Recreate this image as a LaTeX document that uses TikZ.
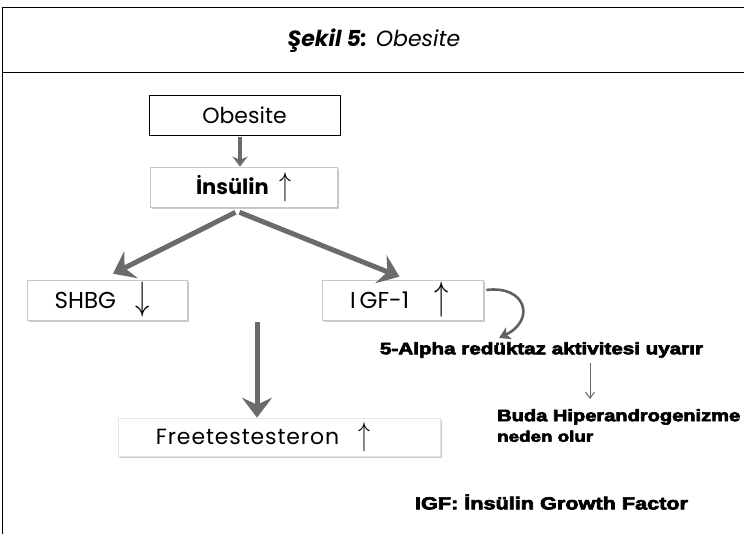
\documentclass[tikz,border=0pt]{standalone}
\usepackage{fontspec}
\usepackage{graphicx}
\setmainfont{Poppins}
\newfontfamily\heavyfont[FakeBold=3.5]{Liberation Sans}
\usetikzlibrary{arrows.meta,shadows,calc}

% tall thin up/down arrows used after the labels
\newcommand{\upmark}{\raisebox{-1pt}{\scalebox{1.15}[1.6]{$\uparrow$}}}
\newcommand{\downmark}{\raisebox{-1pt}{\scalebox{1.15}[1.6]{$\downarrow$}}}

\tikzset{
  framebox/.style={draw=black, line width=0.8pt, fill=white, inner sep=0pt},
  softbox/.style={draw=black!22, line width=0.6pt, fill=white, inner sep=0pt,
    drop shadow={shadow xshift=1.6pt, shadow yshift=-1.8pt, opacity=0.35, fill=black!60}},
  thickarrow/.style={draw=black!58, line width=5pt,
    -{Stealth[length=20pt, width=30pt, inset=7pt]}},
  smallarrow/.style={draw=black!58, line width=3.5pt,
    -{Stealth[length=10pt, width=15pt, inset=3pt]}},
  curvearrow/.style={draw=black!62, line width=2.6pt,
    -{Stealth[length=11pt, width=13pt, inset=3pt]}},
  thinarrow/.style={draw=black!60, line width=1pt,
    -{Straight Barb[length=6pt, width=9pt]}},
  heavytext/.style={inner sep=0pt, font=\heavyfont\bfseries},
}

\begin{document}
\begin{tikzpicture}[x=1pt, y=-1pt]
\useasboundingbox (0,0) rectangle (744,534);

% frame of the figure
\draw[line width=1pt] (2,534) -- (2,8) -- (744,8);
\draw[line width=1pt] (2,73) -- (744,73);

% caption
\node (title) at (374,41) {\fontsize{22}{26}\selectfont\itshape\textbf{Şekil 5:} Obesite};

% boxes
\node[framebox, minimum width=191pt, minimum height=40pt] (obes) at (244.5,115)
  {\fontsize{22}{26}\selectfont Obesite};
\node[softbox, minimum width=187pt, minimum height=40pt] (ins) at (243.5,187)
  {\fontsize{21}{26}\selectfont\bfseries İnsülin \;\upmark};
\node[softbox, minimum width=160pt, minimum height=40pt] (shbg) at (107,300)
  {\hspace*{-10pt}\fontsize{23}{26}\selectfont SHBG \;\;\downmark};
\node[softbox, minimum width=161pt, minimum height=40pt] (igf) at (402.5,300)
  {\hspace*{-6pt}\fontsize{23}{26}\selectfont I\,GF-1 \;\;\;\upmark};
\node[softbox, draw=black!10, minimum width=322pt, minimum height=38pt] (free) at (279,437)
  {\hspace*{-32pt}\fontsize{22}{26}\selectfont\addfontfeature{LetterSpace=4}Freetestesteron \;\;\upmark};

% free texts
\node[heavytext] (alpha) at (541.5,350)
  {\resizebox{323pt}{12pt}{5-Alpha redüktaz aktivitesi uyarır}};
\node[heavytext, anchor=north west, align=left] (buda) at (497,409)
  {\resizebox{243pt}{12pt}{Buda Hiperandrogenizme}\\[5pt]
   \resizebox{96pt}{11pt}{neden olur}};
\node[heavytext] (note) at (551.5,502)
  {\resizebox{273pt}{15pt}{IGF: İnsülin Growth Factor}};

% connectors
\draw[smallarrow] ($(obes.south)+(-4.5,2)$) -- ($(ins.north)+(-3.5,0)$);
\draw[thickarrow] ($(ins.south)+(-8,5)$) -- ($(shbg.north)+(6,-6)$);
\draw[thickarrow] ($(ins.south)+(-4,5)$) -- ($(igf.north)+(-3,-3)$);
\coordinate (vtop) at (257,322);
\draw[thickarrow] (vtop) -- (vtop |- free.north);
\coordinate (ctip) at (499,338);
\draw[curvearrow] ($(igf.east)+(3,-10)$) .. controls (526,285) and (536,320) .. (ctip);
\coordinate (dtop) at (590,363);
\draw[thinarrow] (dtop) -- (590,399);
\end{tikzpicture}
\end{document}
